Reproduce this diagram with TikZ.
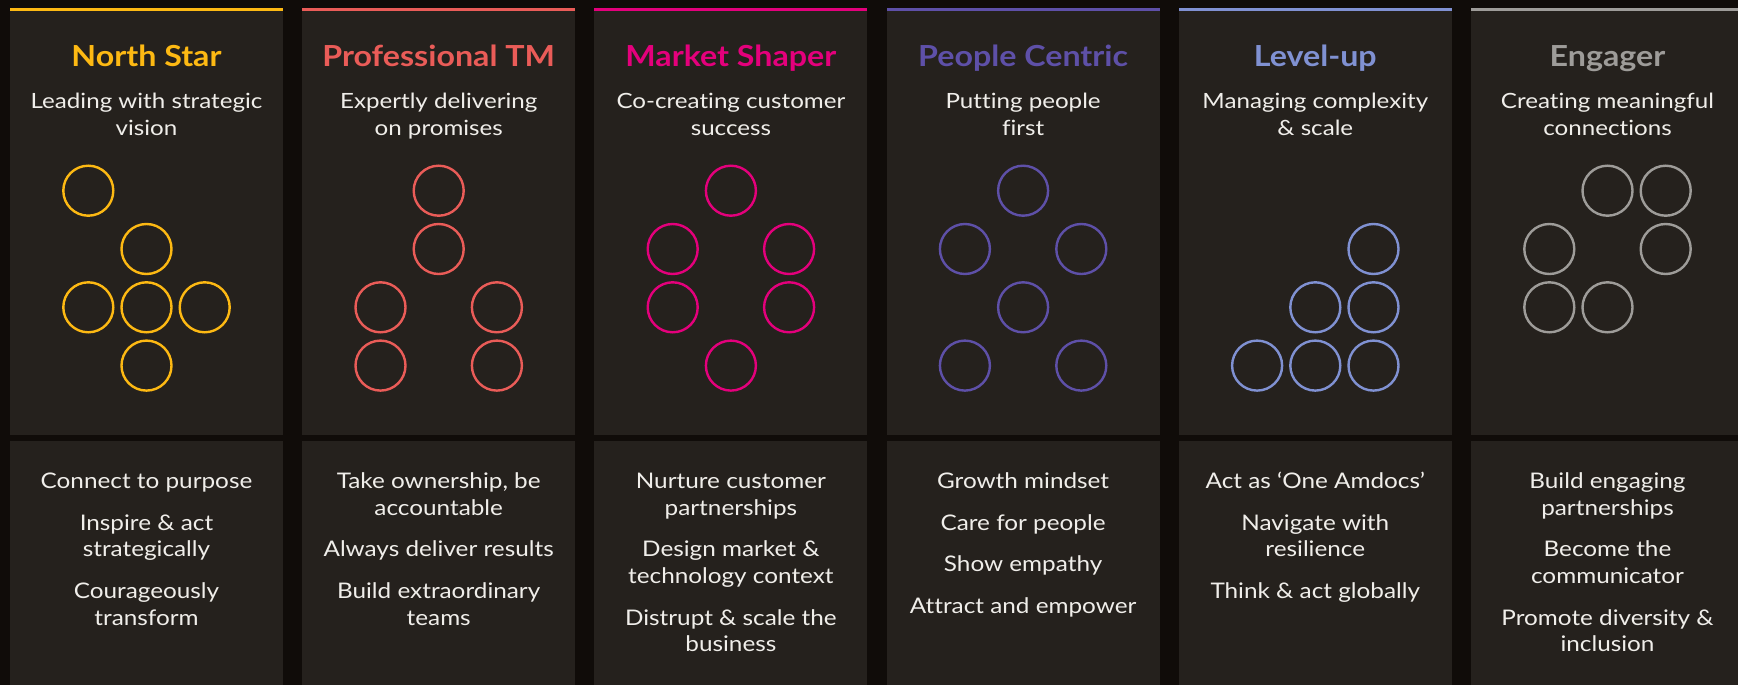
\documentclass[tikz,border=0pt]{standalone}
\usepackage{fontspec}
\setmainfont{Lato}[Ligatures=NoCommon]
\newfontfamily\ttlfont{Lato}[FakeStretch=1.11,Ligatures=NoCommon]
\newfontfamily\subfont{Lato}[FakeStretch=1.15,Ligatures=NoCommon]
\newfontfamily\bodyfont{Lato}[FakeStretch=1.13,Ligatures=NoCommon]
\definecolor{bgout}{RGB}{16,12,9}
\definecolor{panelbg}{RGB}{37,33,29}
\definecolor{fg}{RGB}{240,238,234}
\definecolor{cNS}{RGB}{253,185,19}
\definecolor{cTM}{RGB}{234,92,88}
\definecolor{cMS}{RGB}{228,0,124}
\definecolor{cPC}{RGB}{94,80,168}
\definecolor{cLU}{RGB}{128,145,210}
\definecolor{cEN}{RGB}{158,156,153}
\tikzset{
  titletxt/.style={anchor=base, inner sep=0pt, font=\ttlfont\fontsize{29}{34}\selectfont\bfseries},
  subtxt/.style={anchor=base, inner sep=0pt, text=fg, font=\subfont\fontsize{21}{25}\selectfont},
  bodytxt/.style={anchor=base, inner sep=0pt, text=fg, font=\bodyfont\fontsize{21.5}{25}\selectfont},
  ring/.style={line width=2.4pt}
}
\newcommand\mkpanel[6]{%
  \pgfmathsetmacro\cx{146.5+292.2*#1}
  \fill[panelbg] (\cx-136.5,8) rectangle (\cx+136.5,435);
  \fill[panelbg] (\cx-136.5,441) rectangle (\cx+136.5,685);
  \fill[#2] (\cx-136.5,8) rectangle (\cx+136.5,11);
  \node[titletxt,text=#2] (t#1) at (\cx,66.7) {#3};
  \node[subtxt] (s#1a) at (\cx,108.3) {#4};
  \node[subtxt] (s#1b) at (\cx,135) {#5};
  \foreach \u/\v in {#6} \draw[#2,ring] (\cx+58.2*\u,190.7+58.3*\v) circle[radius=25];
}
\newcommand\bline[4]{\node[bodytxt] (#1) at ({146.5+292.2*#2},#3) {#4};}
\begin{document}
\begin{tikzpicture}[x=1pt,y=-1pt]
\useasboundingbox (0,0) rectangle (1738,685);
\clip (0,0) rectangle (1738,685);
\fill[bgout] (0,0) rectangle (1738,685);
\mkpanel{0}{cNS}{North Star}{Leading with strategic}{vision}{-1/0,0/1,-1/2,0/2,1/2,0/3}
\mkpanel{1}{cTM}{Professional TM}{Expertly delivering}{on promises}{0/0,0/1,-1/2,1/2,-1/3,1/3}
\mkpanel{2}{cMS}{Market Shaper}{Co-creating customer}{success}{0/0,-1/1,1/1,-1/2,1/2,0/3}
\mkpanel{3}{cPC}{People Centric}{Putting people}{first}{0/0,-1/1,1/1,0/2,-1/3,1/3}
\mkpanel{4}{cLU}{Level-up}{Managing complexity}{\& scale}{1/1,0/2,1/2,-1/3,0/3,1/3}
\mkpanel{5}{cEN}{Engager}{Creating meaningful}{connections}{0/0,1/0,-1/1,1/1,-1/2,0/2}
% bottom texts
\bline{a1}{0}{488.3}{Connect to purpose}
\bline{a2}{0}{530}{Inspire \& act}
\bline{a3}{0}{556.7}{strategically}
\bline{a4}{0}{598.4}{Courageously}
\bline{a5}{0}{625.1}{transform}
\bline{b1}{1}{488.3}{Take ownership, be}
\bline{b2}{1}{515}{accountable}
\bline{b3}{1}{556.7}{Always deliver results}
\bline{b4}{1}{598.4}{Build extraordinary}
\bline{b5}{1}{625.1}{teams}
\bline{c1}{2}{488.3}{Nurture customer}
\bline{c2}{2}{515}{partnerships}
\bline{c3}{2}{556.7}{Design market \&}
\bline{c4}{2}{583.4}{technology context}
\bline{c5}{2}{625.1}{Distrupt \& scale the}
\bline{c6}{2}{651.8}{business}
\bline{d1}{3}{488.3}{Growth mindset}
\bline{d2}{3}{530}{Care for people}
\bline{d3}{3}{571.7}{Show empathy}
\bline{d4}{3}{613.4}{Attract and empower}
\bline{e1}{4}{488.3}{Act as ‘One Amdocs’}
\bline{e2}{4}{530}{Navigate with}
\bline{e3}{4}{556.7}{resilience}
\bline{e4}{4}{598.4}{Think \& act globally}
\bline{f1}{5}{488.3}{Build engaging}
\bline{f2}{5}{515}{partnerships}
\bline{f3}{5}{556.7}{Become the}
\bline{f4}{5}{583.4}{communicator}
\bline{f5}{5}{625.1}{Promote diversity \&}
\bline{f6}{5}{651.8}{inclusion}
\end{tikzpicture}
\end{document}
